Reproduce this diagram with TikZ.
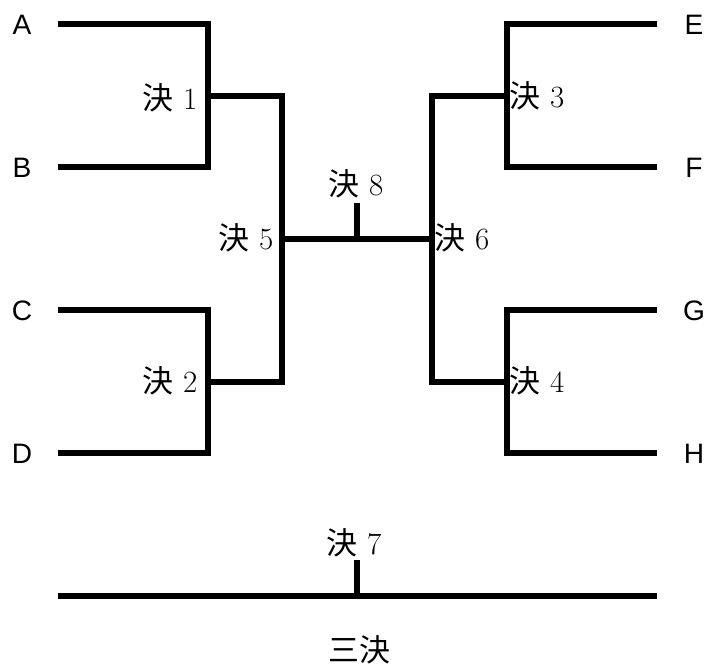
\documentclass[tikz,border=0pt]{standalone}
\usepackage{fontspec}
\newfontfamily\jpfont{Noto Sans CJK JP}
\newfontfamily\teamfont{Liberation Sans}
\usetikzlibrary{positioning}

\begin{document}
\begin{tikzpicture}[x=0.025cm, y=-0.025cm]
        \tikzset{team/.style = {font=\teamfont\fontsize{20}{22}\selectfont, inner sep=0pt}}
        \tikzset{game/.style = {font=\fontsize{22}{24}\selectfont, inner sep=0pt}}
        \tikzset{bracket/.style = {line width=4pt}}
        \useasboundingbox (0,0) rectangle (710,667);

        % teams
        \node[team] (A) at (22, 25) {A};
        \node[team] (B) at (22, 168) {B};
        \node[team] (C) at (22, 311) {C};
        \node[team] (D) at (22, 454) {D};
        \node[team] (E) at (694, 25) {E};
        \node[team] (F) at (694, 168) {F};
        \node[team] (G) at (694, 311) {G};
        \node[team] (H) at (694, 454) {H};

        % line ends and joints
        \coordinate (a) at (58, 24);
        \coordinate (b) at (58, 167);
        \coordinate (c) at (58, 310);
        \coordinate (d) at (58, 453);
        \coordinate (e) at (657, 24);
        \coordinate (f) at (657, 167);
        \coordinate (g) at (657, 310);
        \coordinate (h) at (657, 453);
        \coordinate (m1) at (208, 96);
        \coordinate (m2) at (208, 382);
        \coordinate (m3) at (507, 96);
        \coordinate (m4) at (507, 382);
        \coordinate (m5) at (282, 239);
        \coordinate (m6) at (432, 239);
        \coordinate (m8) at (357, 239);
        \coordinate (s8) at (357, 203);
        \coordinate (t1) at (58, 596);
        \coordinate (t2) at (657, 596);
        \coordinate (m7) at (357, 596);
        \coordinate (s7) at (357, 560);

        % games
        \node[game] (g1) at (170, 98) {{\jpfont 決} 1};
        \node[game] (g2) at (170, 381) {{\jpfont 決} 2};
        \node[game] (g3) at (537, 96) {{\jpfont 決} 3};
        \node[game] (g4) at (537, 381) {{\jpfont 決} 4};
        \node[game] (g5) at (246, 238) {{\jpfont 決} 5};
        \node[game] (g6) at (462, 238) {{\jpfont 決} 6};
        \node[game] (g8) at (356, 184) {{\jpfont 決} 8};
        \node[game] (g7) at (354, 543) {{\jpfont 決} 7};
        \node[game] (third) at (359, 650) {\jpfont 三決};

        \draw[bracket] (a) -| (m1) |- (b);
        \draw[bracket] (c) -| (m2) |- (d);
        \draw[bracket] (e) -| (m3) |- (f);
        \draw[bracket] (g) -| (m4) |- (h);
        \draw[bracket] (m1) -| (m5) |- (m2);
        \draw[bracket] (m3) -| (m6) |- (m4);
        \draw[bracket] (m5) -- (m6);
        \draw[bracket] (m8) -- (s8);
        \draw[bracket] (t1) -- (t2);
        \draw[bracket] (m7) -- (s7);
      \end{tikzpicture}
\end{document}
